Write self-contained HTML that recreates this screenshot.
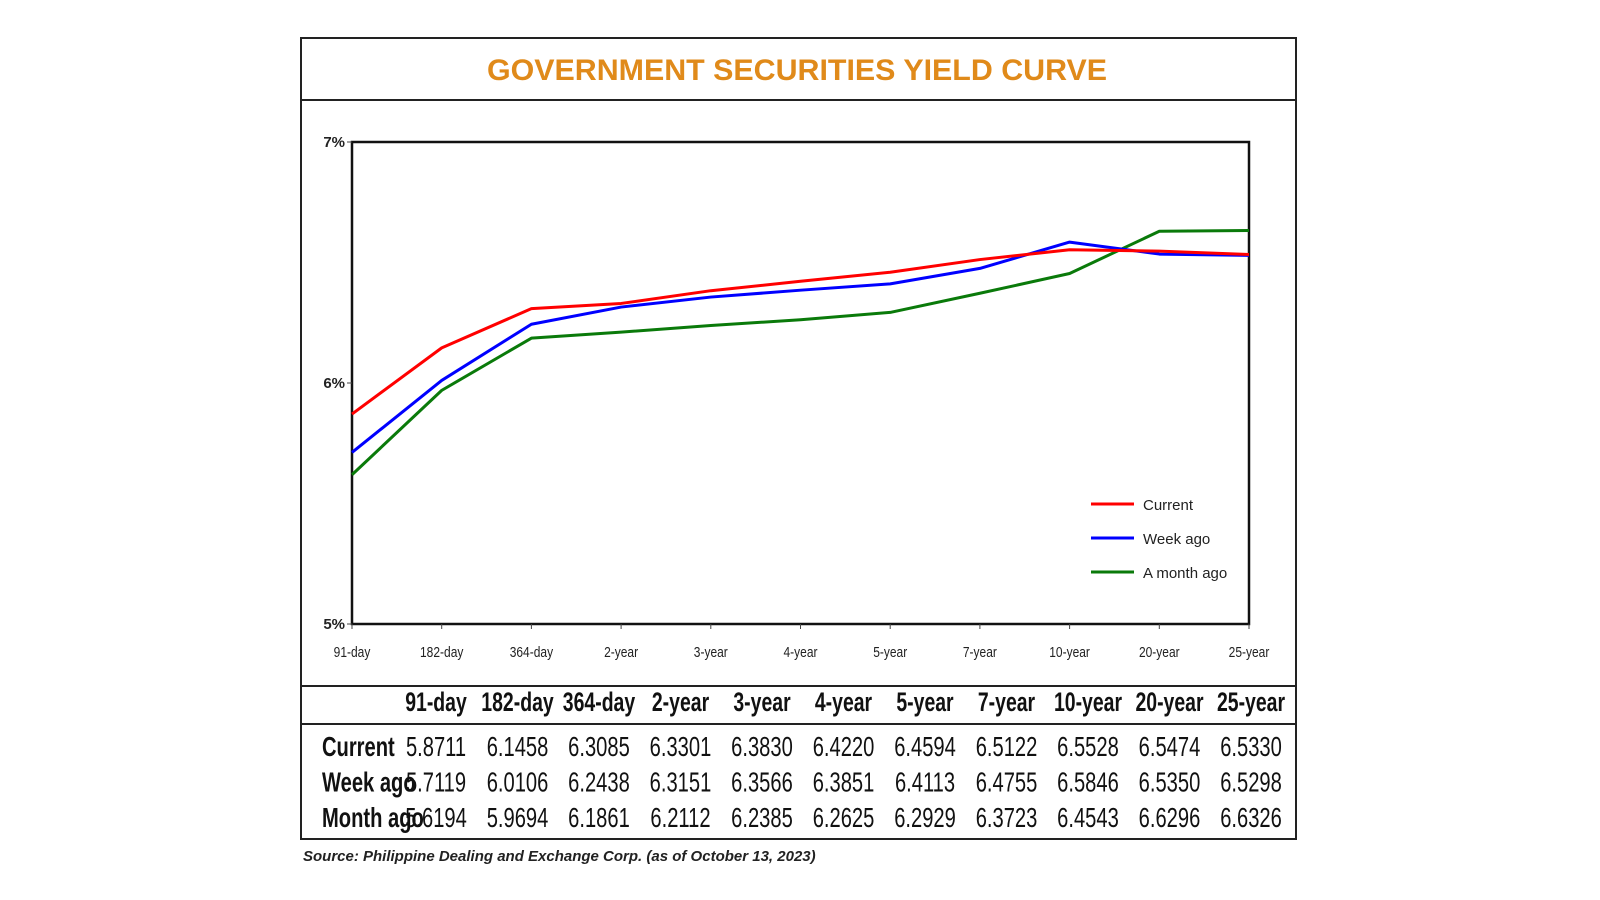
<!DOCTYPE html>
<html><head><meta charset="utf-8"><style>
html,body{margin:0;padding:0;background:#fff;width:1600px;height:900px;overflow:hidden}
text{font-family:"Liberation Sans Narrow","Liberation Sans",sans-serif}
</style></head><body>
<svg id="chart" width="1600" height="900" viewBox="0 0 1600 900" xmlns="http://www.w3.org/2000/svg">
<rect x="301" y="38" width="995" height="801" fill="none" stroke="#222" stroke-width="2"/>
<line x1="301" y1="100" x2="1296" y2="100" stroke="#222" stroke-width="2"/>
<text x="797" y="80" text-anchor="middle" font-size="30" font-weight="bold" fill="#e08a1a" textLength="620" lengthAdjust="spacingAndGlyphs">GOVERNMENT SECURITIES YIELD CURVE</text>
<rect x="352" y="142" width="897" height="482" fill="#fff" stroke="#111" stroke-width="2.5"/>
<g id="yaxis"></g><g id="xaxis"></g><g id="series"></g><g id="table"></g>
<line x1="301" y1="686" x2="1296" y2="686" stroke="#222" stroke-width="2"/>
<line x1="301" y1="724" x2="1296" y2="724" stroke="#222" stroke-width="2"/>
<g>
<line x1="1091" y1="504" x2="1134" y2="504" stroke="#f00" stroke-width="3"/>
<text x="1143" y="510" font-size="15" fill="#222">Current</text>
<line x1="1091" y1="538" x2="1134" y2="538" stroke="#00f" stroke-width="3"/>
<text x="1143" y="544" font-size="15" fill="#222">Week ago</text>
<line x1="1091" y1="572" x2="1134" y2="572" stroke="#0a7a0a" stroke-width="3"/>
<text x="1143" y="578" font-size="15" fill="#222">A month ago</text>
</g>
<text x="303" y="861" font-size="15" font-weight="bold" font-style="italic" fill="#222">Source: Philippine Dealing and Exchange Corp. (as of October 13, 2023)</text>
</svg>
<script>
const categories=["91-day","182-day","364-day","2-year","3-year","4-year","5-year","7-year","10-year","20-year","25-year"];
const currentVals=[5.8711,6.1458,6.3085,6.3301,6.3830,6.4220,6.4594,6.5122,6.5528,6.5474,6.5330];
const weekAgoVals=[5.7119,6.0106,6.2438,6.3151,6.3566,6.3851,6.4113,6.4755,6.5846,6.5350,6.5298];
const monthAgoVals=[5.6194,5.9694,6.1861,6.2112,6.2385,6.2625,6.2929,6.3723,6.4543,6.6296,6.6326];
const yTicks=[5,6,7];
const yTickLabels=["5%","6%","7%"];
const rowLabels=["Current","Week ago","Month ago"];
const NS="http://www.w3.org/2000/svg";
const X0=352,X1=1249,Y0=624,Y1=142;
function xs(i){return X0+(X1-X0)*i/(categories.length-1);}
function ys(v){return Y0-(v-5)/2*(Y0-Y1);}
function mk(t,attrs,parent){const e=document.createElementNS(NS,t);for(const k in attrs)e.setAttribute(k,attrs[k]);parent.appendChild(e);return e;}
const ya=document.getElementById('yaxis'),xa=document.getElementById('xaxis'),sg=document.getElementById('series'),tg=document.getElementById('table');
yTicks.forEach((v,i)=>{
 const t=mk('text',{x:X0-7,y:ys(v)+5,'text-anchor':'end','font-size':15,'font-weight':'bold',fill:'#222'},ya);
 
 
 t.textContent=yTickLabels[i];
 const l=mk('line',{x1:X0-5,x2:X0,y1:ys(v),y2:ys(v),stroke:'#444'},ya);
 
 
});
categories.forEach((c,i)=>{
 const l=mk('line',{x1:xs(i),x2:xs(i),y1:Y0,y2:Y0+5,stroke:'#444'},xa);
 
 
 const t=mk('text',{x:xs(i),y:657,'text-anchor':'middle','font-size':15,fill:'#222',transform:`translate(${xs(i)},0) scale(0.8,1) translate(${-xs(i)},0)`},xa);
 
 
 t.textContent=c;
});
[[currentVals,'#f00','current-line'],[weekAgoVals,'#00f','week-ago-line'],[monthAgoVals,'#0a7a0a','month-ago-line']].reverse().forEach(([vals,col,name])=>{
 const p=mk('polyline',{points:vals.map((v,i)=>xs(i)+','+ys(v)).join(' '),fill:'none',stroke:col,'stroke-width':3,'stroke-linejoin':'round'},sg);
 
 
});
const colX=i=>436+81.5*i;
function ctext(x,y,s,size,bold,anchor,name){
 const t=mk('text',{x:x,y:y,'text-anchor':anchor,'font-size':size,'font-weight':bold?'bold':'normal',fill:'#111',transform:`translate(${x},0) scale(0.72,1) translate(${-x},0)`},tg);
 
 
 t.textContent=s;
}
categories.forEach((c,i)=>ctext(colX(i),711,c,27,true,'middle','table-header'));
[currentVals,weekAgoVals,monthAgoVals].forEach((vals,r)=>{
 const y=756+35.5*r;
 ctext(322,y,rowLabels[r],28,true,'start','table-row-label');
 vals.forEach((v,i)=>ctext(colX(i),y,v.toFixed(4),28,false,'middle','table-value'));
});
</script>
</body></html>
